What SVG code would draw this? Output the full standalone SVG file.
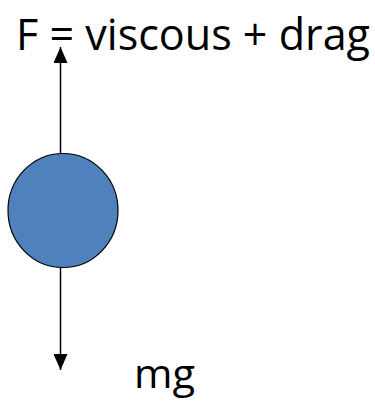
<svg xmlns="http://www.w3.org/2000/svg" width="375" height="401" viewBox="0 0 375 401">
<style>
.lbl{font-family:"Open Sans","Liberation Sans",sans-serif;fill:#000}
.conn{stroke:#000;stroke-width:1.5;fill:none}
</style>
<defs>
<marker id="ah" viewBox="0 0 16 14" refX="16" refY="7" markerWidth="16" markerHeight="14" markerUnits="userSpaceOnUse" orient="auto">
<path d="M0,0 L16,7 L0,14 z" fill="#000"/>
</marker>
</defs>
<rect width="375" height="401" fill="#fff"/>
<g id="connectors">
<line class="conn" x1="60.5" y1="154" x2="60.5" y2="47" marker-end="url(#ah)"/>
<line class="conn" x1="60.5" y1="265" x2="60.5" y2="370" marker-end="url(#ah)"/>
</g>
<g id="ball">
<ellipse cx="63" cy="210.5" rx="55" ry="57" fill="#4f81bd" stroke="#000" stroke-width="1.2"/>
</g>
<g id="label-F">
<text class="lbl" x="16" y="50" font-size="44" textLength="354" lengthAdjust="spacingAndGlyphs">F = viscous + drag</text>
</g>
<g id="label-mg">
<text class="lbl" x="134" y="388" font-size="40" textLength="61" lengthAdjust="spacingAndGlyphs">mg</text>
</g>
</svg>
